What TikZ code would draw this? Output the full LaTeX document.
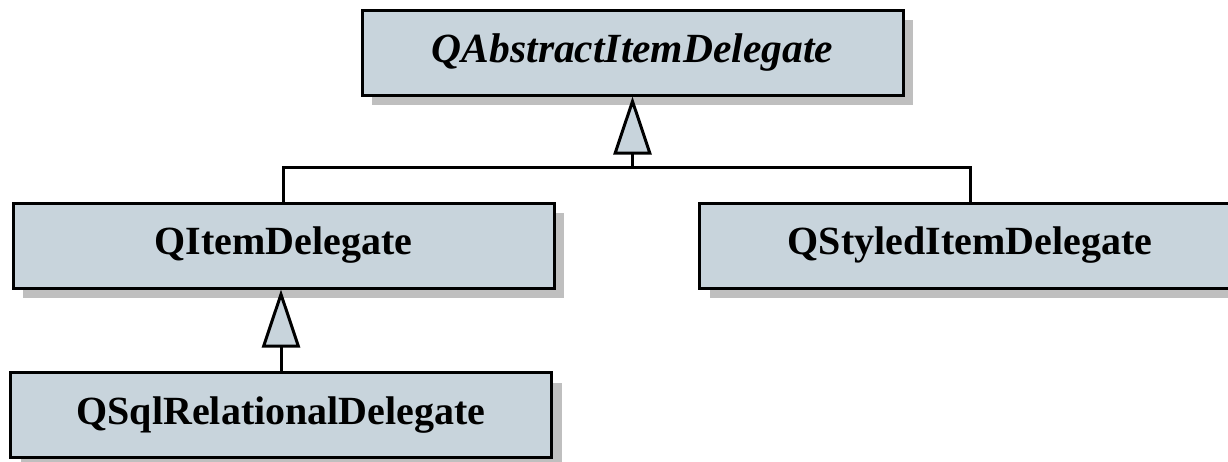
\documentclass[tikz,border=0pt]{standalone}
\usepackage{fontspec}
\setmainfont{Liberation Serif}
\usetikzlibrary{arrows.meta,shadows}
\definecolor{classfill}{HTML}{C8D4DC}
\definecolor{shadowgray}{HTML}{BFBFBF}
\begin{document}
\begin{tikzpicture}[x=1pt,y=-1pt,
	class/.style={draw,line width=3pt,fill=classfill,minimum width=541pt,minimum height=85pt,inner sep=0pt,
		font=\fontsize{40}{48}\selectfont\bfseries,
		drop shadow={shadow xshift=10pt,shadow yshift=-10pt,fill=shadowgray,opacity=1}},
	inherit/.style={line width=3pt,-{Triangle[length=58pt,width=38pt,fill=classfill]}}]
	\useasboundingbox (0,0) rectangle (1228,461);
	%classes
	\node[class,font=\fontsize{41.5}{48}\selectfont\bfseries\itshape] (abstract) at (632.5,52.5) {QAbstractItemDelegate};
	\node[class] (item) at (283.5,245.5) {QItemDelegate};
	\node[class] (styled) at (970,245.5) {QStyledItemDelegate};
	\node[class] (sqlrel) at (281,415) {QSqlRelationalDelegate};
	%generalisations
	\coordinate (split) at (632.5,167);
	\draw[inherit] (item.north) |- (split) -- (abstract.south);
	\draw[line width=3pt] (styled.north) |- (split);
	\draw[inherit] (sqlrel.north) -- (sqlrel.north |- item.south);
\end{tikzpicture}
\end{document}
